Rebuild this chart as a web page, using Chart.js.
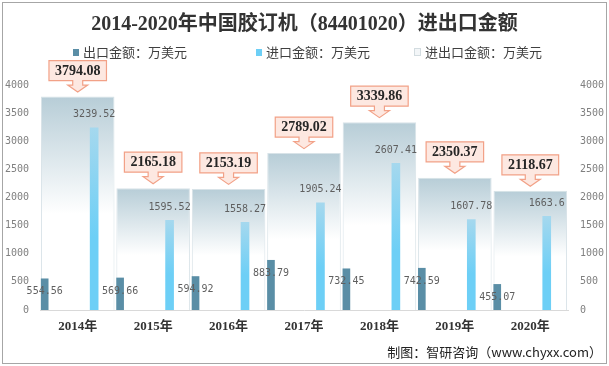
<!DOCTYPE html>
<html>
<head>
<meta charset="utf-8">
<script src="https://cdn.jsdelivr.net/npm/chart.js@4.4.1/dist/chart.umd.min.js"></script>
<style>
    body { margin: 0; background: #fff; }
    #wrap { position: relative; width: 609px; height: 366px; overflow: hidden; }
    #frame { position: absolute; left: 2px; top: 2px; width: 605px; height: 362px; box-sizing: border-box; border: 1px solid #a6a6a6; }
    #title { position: absolute; left: 0; top: 10px; width: 609px; text-align: center; font: bold 20px "Liberation Serif", "Noto Sans CJK SC", serif; color: #333; line-height: 26px; }
    .lg { position: absolute; top: 43px; font: 13px "Noto Sans CJK SC", sans-serif; color: #404040; line-height: 18px; white-space: nowrap; }
    .lg i { display: inline-block; width: 6px; height: 7px; margin-right: 4px; vertical-align: 1px; }
    #source { position: absolute; right: 7px; top: 343px; font: 13px "Noto Sans CJK SC", sans-serif; color: #222; line-height: 18px; }
    canvas { position: absolute; left: 0; top: 0; }
</style>
</head>
<body>
<div id="wrap">
    <canvas id="chart" width="609" height="366"></canvas>
    <div id="frame"></div>
    <div id="title">2014-2020年中国胶订机（84401020）进出口金额</div>
    <div class="lg" style="left:73px"><i style="background:#5a8ea6"></i>出口金额：万美元</div>
    <div class="lg" style="left:256px"><i style="background:#6dcff6"></i>进口金额：万美元</div>
    <div class="lg" style="left:414px"><i style="background:#f3f6f8;border:1px solid #d3dce0;width:5px;height:6px"></i>进出口金额：万美元</div>
    <div id="source">制图：智研咨询（www.chyxx.com）</div>
</div>
<script>
// data
const years = ['2014年', '2015年', '2016年', '2017年', '2018年', '2019年', '2020年'];
const exportValues = [554.56, 569.66, 594.92, 883.79, 732.45, 742.59, 455.07];
const importValues = [3239.52, 1595.52, 1558.27, 1905.24, 2607.41, 1607.78, 1663.6];
const totalValues = [3794.08, 2165.18, 2153.19, 2789.02, 3339.86, 2350.37, 2118.67];
const yMax = 4000;
const yStep = 500;

// vertical gradient per bar, from its top down to zero
function barGradient(context, stops) {
    const chart = context.chart;
    if (!chart.chartArea || !context.parsed) return stops[stops.length - 1][1];
    const y = chart.scales.y;
    const top = y.getPixelForValue(context.parsed.y);
    const bottom = y.getPixelForValue(0);
    const g = chart.ctx.createLinearGradient(0, top, 0, bottom);
    stops.forEach(s => g.addColorStop(s[0], s[1]));
    return g;
}

// labels + callouts
const labelPlugin = {
    id: 'valueLabels',
    afterDatasetsDraw(chart) {
        const ctx = chart.ctx;
        ctx.save();
        ctx.textAlign = 'center';
        ctx.textBaseline = 'middle';

        ctx.font = '10px "DejaVu Sans Mono", monospace';
        ctx.fillStyle = '#5f5f5f';
        chart.getDatasetMeta(1).data.forEach((bar, i) => {
            ctx.fillText(String(exportValues[i]), bar.x, bar.y + 13);
        });
        chart.getDatasetMeta(2).data.forEach((bar, i) => {
            ctx.fillText(String(importValues[i]), bar.x, bar.y - 13);
        });

        ctx.font = 'bold 14px "Liberation Serif", serif';
        chart.getDatasetMeta(0).data.forEach((bar, i) => {
            const text = String(totalValues[i]);
            const cx = bar.x;
            const tip = bar.y - 4.5;
            const shaft = tip - 7;
            const boxB = shaft - 4.5;
            const boxT = boxB - 20;
            const half = ctx.measureText(text).width / 2 + 6;

            ctx.beginPath();
            ctx.moveTo(cx - half, boxT);
            ctx.lineTo(cx + half, boxT);
            ctx.lineTo(cx + half, boxB);
            ctx.lineTo(cx + 5, boxB);
            ctx.lineTo(cx + 5, shaft);
            ctx.lineTo(cx + 10, shaft);
            ctx.lineTo(cx, tip);
            ctx.lineTo(cx - 10, shaft);
            ctx.lineTo(cx - 5, shaft);
            ctx.lineTo(cx - 5, boxB);
            ctx.lineTo(cx - half, boxB);
            ctx.closePath();
            ctx.fillStyle = '#fde8e1';
            ctx.fill();
            ctx.strokeStyle = '#f2a187';
            ctx.lineWidth = 1.2;
            ctx.stroke();

            ctx.fillStyle = '#262626';
            ctx.fillText(text, cx, (boxT + boxB) / 2 + 0.5);
        });
        ctx.restore();
    }
};

const tickFont = { family: '"DejaVu Sans Mono", monospace', size: 10 };
const plainTick = v => String(v);

new Chart(document.getElementById('chart'), {
    type: 'bar',
    data: {
        labels: years,
        datasets: [{
            label: '进出口金额：万美元',
            data: totalValues,
            xAxisID: 'x',
            grouped: false,
            order: 3,
            barPercentage: 0.975,
            categoryPercentage: 1,
            backgroundColor: c => barGradient(c, [[0, '#b7cdd7'], [0.55, '#ffffff'], [1, '#ffffff']]),
            borderColor: '#d8e3e8',
            borderWidth: 1
        },
        {
            label: '出口金额：万美元',
            data: exportValues.map((v, i) => ({ x: i, y: v })),
            xAxisID: 'xE',
            grouped: false,
            order: 1,
            barThickness: 7,
            backgroundColor: '#5a8ea6'
        },
        {
            label: '进口金额：万美元',
            data: importValues.map((v, i) => ({ x: i, y: v })),
            xAxisID: 'xI',
            grouped: false,
            order: 2,
            barThickness: 8,
            backgroundColor: c => barGradient(c, [[0, '#a5d8ee'], [0.6, '#6dcff6'], [1, '#6dcff6']])
        }]
    },
    options: {
        responsive: false,
        animation: false,
        layout: { padding: { left: 2, right: 3, top: 85, bottom: 26 } },
        plugins: {
            legend: { display: false },
            title: { display: false },
            tooltip: { enabled: false }
        },
        scales: {
            x: {
                type: 'category',
                offset: true,
                grid: { display: false, drawTicks: false },
                border: { color: '#d9d9d9', width: 1 },
                ticks: {
                    padding: 9,
                    color: '#333',
                    font: { family: '"Liberation Serif", "Noto Sans CJK SC", serif', size: 13, weight: 'bold' }
                },
                afterFit: s => { s.height = 30; }
            },
            // hidden index axes that shift the narrow bars inside each year
            xE: { type: 'linear', display: false, offset: false, min: -0.062, max: 6.938 },
            xI: { type: 'linear', display: false, offset: false, min: -0.718, max: 6.282 },
            y: {
                position: 'left',
                min: 0,
                max: yMax,
                grid: { display: false, drawTicks: false },
                border: { display: false },
                ticks: { stepSize: yStep, padding: 11, color: '#808080', font: tickFont, callback: plainTick },
                afterFit: s => { s.width = 38; }
            },
            y2: {
                position: 'right',
                min: 0,
                max: yMax,
                grid: { display: false, drawTicks: false },
                border: { display: false },
                ticks: { stepSize: yStep, padding: 12, color: '#808080', font: tickFont, callback: plainTick },
                afterFit: s => { s.width = 38; }
            }
        }
    },
    plugins: [labelPlugin]
});
</script>
</body>
</html>
